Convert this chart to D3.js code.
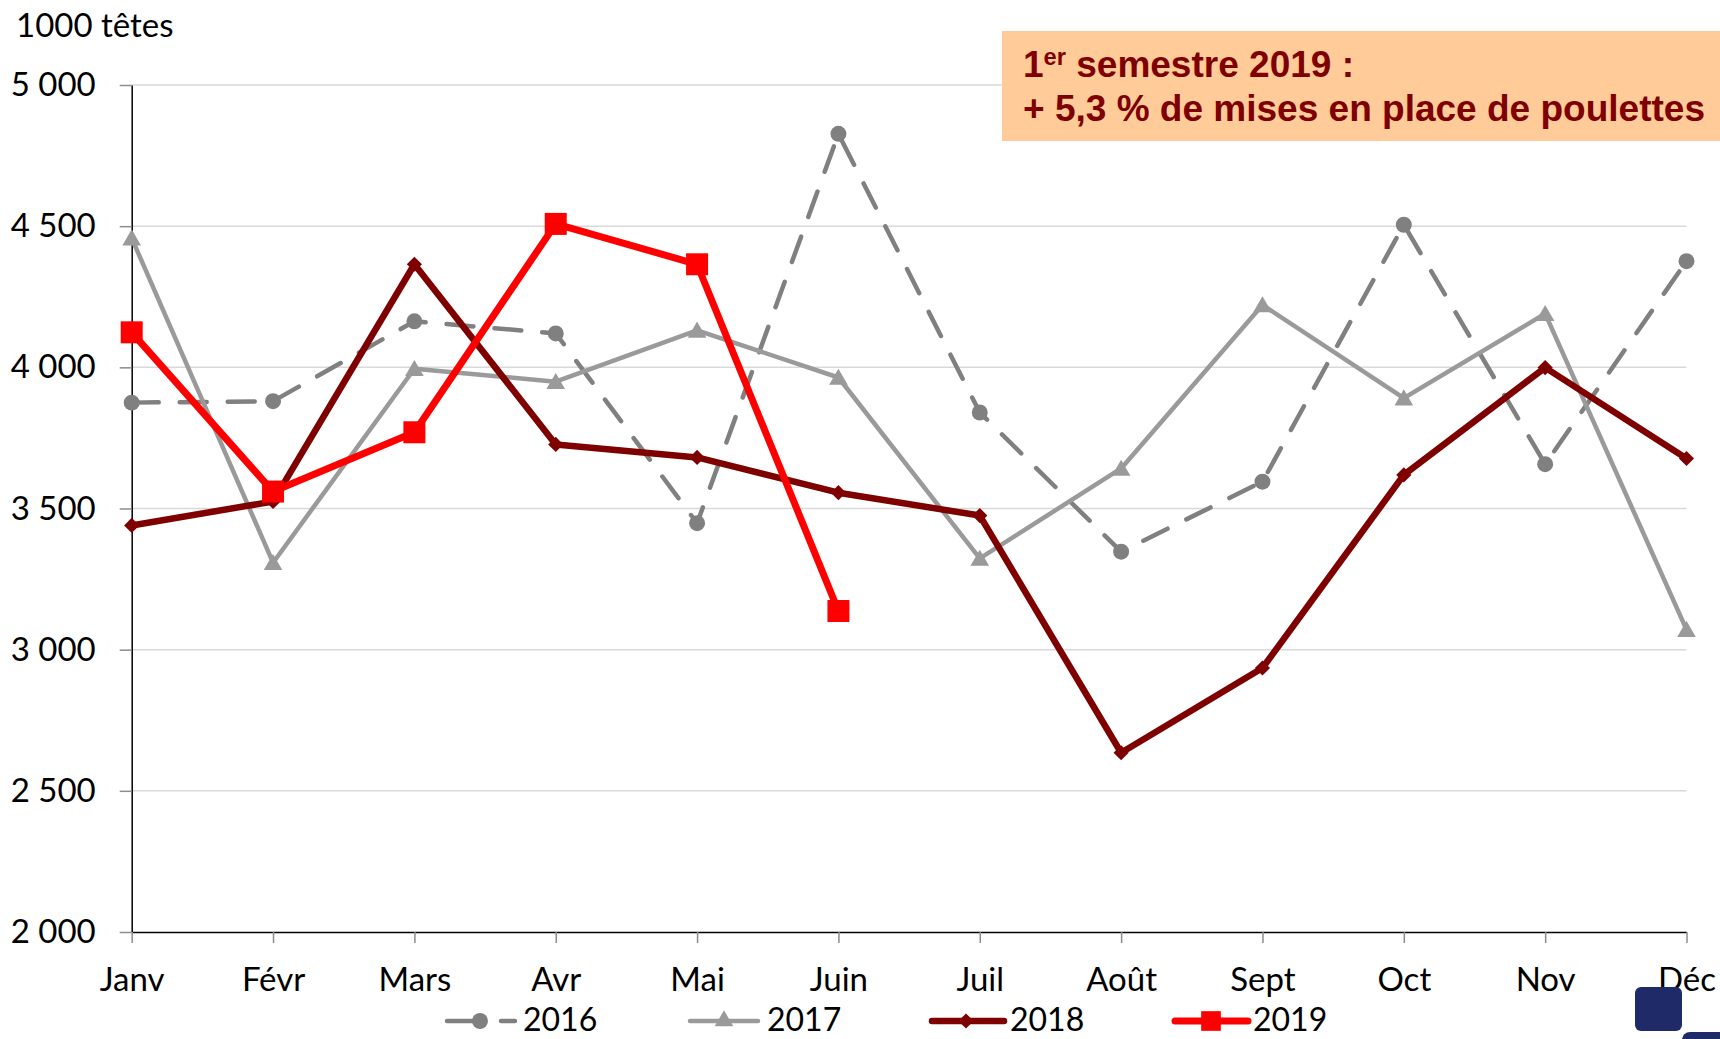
<!DOCTYPE html>
<html>
<head>
<meta charset="utf-8">
<script src="https://cdn.jsdelivr.net/npm/d3@7/dist/d3.min.js"></script>
<style>
  html, body { margin: 0; padding: 0; background: #fff; }
  svg { display: block; }
</style>
</head>
<body>
<svg id="chart" width="1720" height="1039"></svg>
<script>
// Months on the x axis.
var months = ['Janv', 'Févr', 'Mars', 'Avr', 'Mai', 'Juin',
              'Juil', 'Août', 'Sept', 'Oct', 'Nov', 'Déc'];

// Mises en place de poulettes, 1000 têtes.
var values2016 = [3875, 3880, 4163, 4120, 3448, 4827,
                  3840, 3347, 3595, 4505, 3657, 4376];
var values2017 = [4458, 3308, 3995, 3949, 4131, 3964,
                  3323, 3642, 4221, 3891, 4190, 3071];
var values2018 = [3440, 3525, 4365, 3727, 3681, 3556,
                  3475, 2635, 2935, 3619, 3999, 3677];
var values2019 = [4124, 3560, 3770, 4508, 4365, 3137];

var yTicks = [2000, 2500, 3000, 3500, 4000, 4500, 5000];
var yDomain = [2000, 5000];

var unitLabel = '1000 têtes';
var noteLine1 = ['1', 'er', ' semestre 2019 :'];
var noteLine2 = '+ 5,3 % de mises en place de poulettes';

var FONT = 'Lato, "Open Sans", sans-serif';

var svg = d3.select('#chart');

var plot = {left: 131.7, right: 1686.5, top: 85, bottom: 932};

var x = d3.scalePoint().domain(months).range([plot.left, plot.right]);
var y = d3.scaleLinear().domain(yDomain).range([plot.bottom, plot.top]);

var frNum = d3.formatLocale({
  decimal: ',', thousands: ' ', grouping: [3], currency: ['', '']
}).format(',');

/**
 * Series styles, drawn in this order.
 */
var series = [
  {name: '2016', values: values2016, color: '#808080', width: 4.5,
   dash: '27 21', marker: 'circle'},
  {name: '2017', values: values2017, color: '#9a9a9a', width: 4.5,
   dash: null, marker: 'triangle'},
  {name: '2018', values: values2018, color: '#7f0000', width: 6.5,
   dash: null, marker: 'diamond'},
  {name: '2019', values: values2019, color: '#ff0000', width: 7,
   dash: null, marker: 'square'}
];

// Gridlines.
svg.append('g').attr('class', 'grid').
    selectAll('line').data(yTicks.slice(1)).enter().append('line').
    attr('x1', plot.left).attr('x2', plot.right).
    attr('y1', function(d) { return y(d); }).
    attr('y2', function(d) { return y(d); }).
    attr('stroke', '#d9d9d9').attr('stroke-width', 1.5);

// Y axis.
var yAxis = svg.append('g').
    attr('transform', 'translate(' + plot.left + ',0)').
    call(d3.axisLeft(y).tickValues(yTicks).tickFormat(frNum).
         tickSize(12).tickSizeOuter(0).tickPadding(24));
yAxis.select('.domain').attr('stroke', '#000').attr('stroke-width', 1.5);
yAxis.selectAll('.tick line').attr('stroke', '#8c8c8c').attr('stroke-width', 1.5);
yAxis.selectAll('.tick text').
    attr('font-family', FONT).attr('font-size', 33).attr('fill', '#000');

// X axis.
var xAxis = svg.append('g').
    attr('transform', 'translate(0,' + plot.bottom + ')').
    call(d3.axisBottom(x).tickSize(11).tickSizeOuter(0));
xAxis.select('.domain').attr('stroke', '#000').attr('stroke-width', 1.5);
xAxis.selectAll('.tick line').attr('stroke', '#8c8c8c').attr('stroke-width', 1.5);
xAxis.selectAll('.tick text').
    attr('y', 59).attr('dy', 0).
    attr('font-family', FONT).attr('font-size', 33).attr('fill', '#000');

// Unit label.
svg.append('text').
    attr('x', 16).attr('y', 37).
    attr('font-family', FONT).attr('font-size', 33).attr('fill', '#000').
    text(unitLabel);

/**
 * Builds the marker path for one series.
 * @param {string} kind The marker kind.
 * @param {number} scale Size factor.
 * @return {string} The svg path.
 */
function markerPath(kind, scale) {
  var s = scale || 1;
  if (kind == 'circle') {
    return d3.symbol(d3.symbolCircle, 200 * s)();
  } else if (kind == 'triangle') {
    return d3.symbol(d3.symbolTriangle, 150 * s)();
  } else if (kind == 'diamond') {
    return d3.symbol(d3.symbolSquare, 115 * s)();
  }
  return d3.symbol(d3.symbolSquare, 484 * s)();
}

var line = d3.line().
    x(function(d, i) { return x(months[i]); }).
    y(function(d) { return y(d); });

// Series lines and markers.
series.forEach(function(s) {
  var g = svg.append('g').attr('class', 'series-' + s.name);
  g.append('path').
      datum(s.values).
      attr('d', line).
      attr('fill', 'none').
      attr('stroke', s.color).
      attr('stroke-width', s.width).
      attr('stroke-linejoin', 'round').
      attr('stroke-linecap', s.dash ? 'round' : 'butt').
      attr('stroke-dasharray', s.dash);
  g.selectAll('path.marker').data(s.values).enter().append('path').
      attr('class', 'marker').
      attr('d', markerPath(s.marker)).
      attr('transform', function(d, i) {
        return 'translate(' + x(months[i]) + ',' + y(d) + ')' +
            (s.marker == 'diamond' ? ' rotate(45)' : '') +
            (s.marker == 'triangle' ? ' translate(0,2)' : '');
      }).
      attr('fill', s.color);
});

// Legend.
var legendY = 1021;
var legendItems = [
  {x1: 447, x2: 515, mx: 480, tx: 523},
  {x1: 690, x2: 758, mx: 724, tx: 767},
  {x1: 932, x2: 1004, mx: 966, tx: 1010},
  {x1: 1175, x2: 1248, mx: 1211, tx: 1253}
];
var legend = svg.append('g').attr('class', 'legend');
series.forEach(function(s, i) {
  var item = legendItems[i];
  legend.append('line').
      attr('x1', item.x1).attr('x2', item.x2).
      attr('y1', legendY).attr('y2', legendY).
      attr('stroke', s.color).
      attr('stroke-width', s.width).
      attr('stroke-linecap', 'round').
      attr('stroke-dasharray', s.dash ? '33 21' : null);
  legend.append('path').
      attr('d', markerPath(s.marker, s.marker == 'square' ? 0.8 : 1)).
      attr('transform', 'translate(' + item.mx + ',' + legendY + ')' +
           (s.marker == 'diamond' ? ' rotate(45)' : '')).
      attr('fill', s.color);
  legend.append('text').
      attr('x', item.tx).attr('y', 1031).
      attr('font-family', FONT).attr('font-size', 32).attr('fill', '#000').
      text(s.name);
});

// Annotation box.
svg.append('rect').
    attr('x', 1002).attr('y', 31).
    attr('width', 1720 - 1002).attr('height', 110).
    attr('fill', '#ffcc99');

var note = svg.append('g').
    attr('font-family', '"Liberation Sans", Arial, sans-serif').
    attr('font-weight', 'bold').attr('fill', '#7f0000');
var t1 = note.append('text').
    attr('x', 1023).attr('y', 77).attr('font-size', 36).
    attr('textLength', 331).attr('lengthAdjust', 'spacingAndGlyphs');
t1.append('tspan').text(noteLine1[0]);
t1.append('tspan').attr('font-size', 23).attr('dy', -12).text(noteLine1[1]);
t1.append('tspan').attr('dy', 12).text(noteLine1[2]);
note.append('text').
    attr('x', 1023).attr('y', 121).attr('font-size', 36).
    attr('textLength', 682).attr('lengthAdjust', 'spacingAndGlyphs').
    text(noteLine2);

// Corner badges.
svg.append('rect').
    attr('x', 1635).attr('y', 987).attr('width', 47).attr('height', 44).
    attr('rx', 6).attr('fill', '#1f2a68');
svg.append('rect').
    attr('x', 1682).attr('y', 1032).attr('width', 60).attr('height', 30).
    attr('rx', 8).attr('fill', '#1f2a68');
</script>
</body>
</html>
